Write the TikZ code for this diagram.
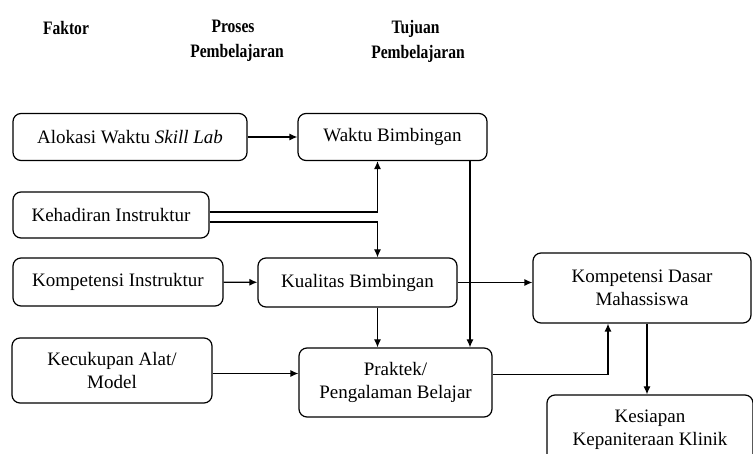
\documentclass[tikz,border=0pt]{standalone}
\usepackage{fontspec}
\setmainfont{Liberation Serif}
\newfontfamily\judulfont[FakeStretch=0.82]{Liberation Serif}
\usetikzlibrary{arrows.meta}

\tikzset{
  kotak/.style={draw, line width=1.2pt, rounded corners=8pt, align=center,
    inner sep=0pt, font=\fontsize{19}{23}\selectfont},
  judul/.style={align=center, font=\judulfont\fontsize{19}{25}\selectfont\bfseries},
  panah/.style={line width=1.2pt, -{Latex[length=8pt,width=7pt]}}
}

\begin{document}
\begin{tikzpicture}[x=1pt,y=-1pt]
        \useasboundingbox (0,0) rectangle (753,454);

        % Judul kolom.
        \node[judul] (faktor) at (66,28) {Faktor};
        \node[judul] (proses) at (237,41) {\hspace*{-8pt}Proses\\Pembelajaran};
        \node[judul] (tujuan) at (418,41) {\hspace*{-5pt}Tujuan\\Pembelajaran};

        % Kotak.
        \node[kotak, minimum width=234pt, minimum height=47pt] (alokasi) at (130,137) {Alokasi Waktu \textit{Skill Lab}};
        \node[kotak, minimum width=189pt, minimum height=47pt] (waktu) at (392.5,137) {Waktu Bimbingan};
        \node[kotak, minimum width=196pt, minimum height=46pt] (hadir) at (111,215) {Kehadiran Instruktur};
        \node[kotak, minimum width=210pt, minimum height=48pt] (kompins) at (118,282) {Kompetensi Instruktur};
        \node[kotak, minimum width=199pt, minimum height=49pt] (kualitas) at (357.5,282.5) {Kualitas Bimbingan};
        \node[kotak, minimum width=200pt, minimum height=65pt] (alat) at (112,370.5) {Kecukupan Alat/\\Model};
        \node[kotak, minimum width=193pt, minimum height=69pt] (praktek) at (395.5,382.5) {Praktek/\\Pengalaman Belajar};
        \node[kotak, minimum width=218pt, minimum height=70pt] (dasar) at (642,288) {Kompetensi Dasar\\Mahassiswa};
        \node[kotak, minimum width=206pt, minimum height=70pt] (siap) at (650,430) {Kesiapan\\Kepaniteraan Klinik};

        % Panah.
        \draw[panah] (alokasi) -- (waktu);
        \draw[panah] ([yshift=3pt]hadir.east) -| ([xshift=-15pt]waktu.south);
        \draw[panah] ([yshift=-7pt]hadir.east) -| ([xshift=20pt]kualitas.north);
        \draw[panah] (kompins) -- (kualitas);
        \draw[panah] (kualitas.east) -- (kualitas.east -| dasar.west);
        \draw[panah] ([xshift=77.5pt]waktu.south) -- ([xshift=77.5pt]waktu.south |- praktek.north);
        \draw[panah] ([xshift=20pt]kualitas.south) -- ([xshift=20pt]kualitas.south |- praktek.north);
        \draw[panah] ([yshift=-3pt]alat.east) coordinate (a1) -- (a1 -| praktek.west);
        \draw[panah] ([yshift=8pt]praktek.east) -| ([xshift=-34pt]dasar.south);
        \draw[panah] ([xshift=5pt]dasar.south) -- ([xshift=5pt]dasar.south |- siap.north);
    \end{tikzpicture}
\end{document}
